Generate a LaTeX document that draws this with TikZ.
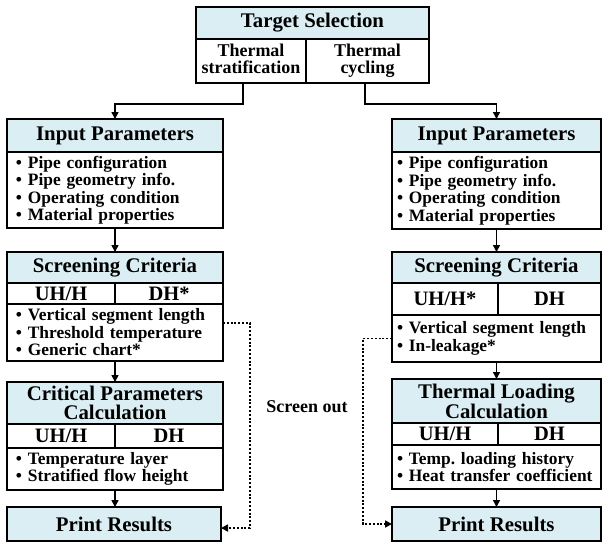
\documentclass[tikz,border=0pt]{standalone}
\usepackage{fontspec}
\setmainfont{Liberation Serif}
\usetikzlibrary{arrows.meta}
\definecolor{hdrblue}{RGB}{218,238,243}
\newcommand\bl[1]{\mbox{\textbullet\ #1}}
\frenchspacing
\begin{document}
\begin{tikzpicture}[x=1pt,y=-1pt,
  cellbase/.style={draw, line width=1.4pt, anchor=north west, inner sep=0pt, outer sep=0pt},
  hdr/.style={cellbase, fill=hdrblue, font=\fontsize{20.8}{19}\selectfont\bfseries, align=center},
  subcell/.style={cellbase, fill=white, font=\fontsize{20.5}{20}\selectfont\bfseries},
  rowcell/.style={cellbase, fill=white, font=\fontsize{18}{17}\selectfont\bfseries, align=center},
  bodyL/.style={cellbase, fill=white, font=\fontsize{17.4}{17.5}\selectfont\bfseries, align=left, inner xsep=9pt, text width=198pt},
  bodyR/.style={cellbase, fill=white, font=\fontsize{17.4}{17.5}\selectfont\bfseries, align=left, inner xsep=5pt, text width=199pt},
  frame/.style={line width=2.6pt},
  conn/.style={line width=1.6pt, -{Triangle[length=7pt,width=7pt]}},
  dots/.style={line width=1.6pt, dash pattern=on 2pt off 1.8pt, -{Triangle[length=7pt,width=7pt]}},
  lbl/.style={font=\fontsize{18}{18}\selectfont\bfseries}
]
\fill[white] (0,0) rectangle (603,542);
\useasboundingbox (0,0) rectangle (603,542);

% Target selection
\node[hdr, minimum width=233pt, minimum height=32pt] (tgt) at (196,7) {Target Selection};
\node[rowcell, minimum width=110pt, minimum height=44pt] (tsL) at (196,39) {Thermal\\stratification\vphantom{g}};
\node[rowcell, minimum width=123pt, minimum height=44pt] (tsR) at (306,39) {Thermal\\cycling};
\draw[frame] (tgt.north west) rectangle (tsR.south east);

% Left column
\node[hdr, minimum width=216pt, minimum height=33pt] (inL) at (7,119) {Input Parameters};
\node[bodyL, minimum width=216pt, minimum height=76pt] (ibL) at (7,152)
  {\bl{Pipe configuration}\\\bl{Pipe geometry info.}\\\bl{Operating condition}\\\bl{Material properties}};
\draw[frame] (inL.north west) rectangle (ibL.south east);

\node[hdr, minimum width=216pt, minimum height=31pt] (scL) at (7,252) {Screening Criteria};
\node[subcell, minimum width=108pt, minimum height=21pt] (scLa) at (7,283) {UH/H};
\node[subcell, minimum width=108pt, minimum height=21pt] (scLb) at (115,283) {DH*};
\node[bodyL, minimum width=216pt, minimum height=57pt] (sbL) at (7,304)
  {\bl{Vertical segment length}\\\bl{Threshold temperature}\\\bl{Generic chart*}};
\draw[frame] (scL.north west) rectangle (sbL.south east);

\node[hdr, minimum width=216pt, minimum height=42pt] (crL) at (7,382) {Critical Parameters\\Calculation};
\node[subcell, minimum width=108pt, minimum height=24pt] (crLa) at (7,424) {UH/H};
\node[subcell, minimum width=108pt, minimum height=24pt] (crLb) at (115,424) {DH};
\node[bodyL, minimum width=216pt, minimum height=42pt] (cbL) at (7,448)
  {\bl{Temperature layer}\\\bl{Stratified flow height}};
\draw[frame] (crL.north west) rectangle (cbL.south east);

\node[hdr, minimum width=214pt, minimum height=34pt] (prL) at (7,507) {Print Results};
\draw[frame] (prL.north west) rectangle (prL.south east);

% Right column
\node[hdr, minimum width=209pt, minimum height=33pt] (inR) at (392,119) {Input Parameters};
\node[bodyR, minimum width=209pt, minimum height=77pt] (ibR) at (392,152)
  {\bl{Pipe configuration}\\\bl{Pipe geometry info.}\\\bl{Operating condition}\\\bl{Material properties}};
\draw[frame] (inR.north west) rectangle (ibR.south east);

\node[hdr, minimum width=209pt, minimum height=31pt] (scR) at (392,252) {Screening Criteria};
\node[subcell, minimum width=106pt, minimum height=32pt] (scRa) at (392,283) {UH/H*};
\node[subcell, minimum width=103pt, minimum height=32pt] (scRb) at (498,283) {DH};
\node[bodyR, minimum width=209pt, minimum height=47pt] (sbR) at (392,315)
  {\bl{Vertical segment length}\\\bl{In-leakage*}};
\draw[frame] (scR.north west) rectangle (sbR.south east);

\node[hdr, minimum width=209pt, minimum height=44pt] (thR) at (392,379) {Thermal Loading\\Calculation};
\node[subcell, minimum width=106pt, minimum height=22pt] (thRa) at (392,423) {UH/H};
\node[subcell, minimum width=103pt, minimum height=22pt] (thRb) at (498,423) {DH};
\node[bodyR, minimum width=209pt, minimum height=44pt] (tbR) at (392,445)
  {\bl{Temp. loading history}\\\bl{Heat transfer coefficient}};
\draw[frame] (thR.north west) rectangle (tbR.south east);

\node[hdr, minimum width=209pt, minimum height=34pt] (prR) at (392,507) {Print Results};
\draw[frame] (prR.north west) rectangle (prR.south east);

% Connectors
\draw[conn] ([xshift=-8pt]tsL.south) -- ++(0,21) -| (inL.north);
\draw[conn] ([xshift=-2.5pt]tsR.south) -- ++(0,21) -| (inR.north);
\draw[conn] (ibL.south) -- (scL.north);
\draw[conn] (sbL.south) -- (crL.north);
\draw[conn] (cbL.south) -- (prL.north -| cbL.south);
\draw[conn] (ibR.south) -- (scR.north);
\draw[conn] (sbR.south) -- (thR.north);
\draw[conn] (tbR.south) -- (prR.north);

\draw[dots] ([yshift=9.5pt]sbL.east) -- ++(27,0) |- ([yshift=-4pt]prL.east);
\draw[dots] (sbR.west) -- ++(-29,0) |- (prR.west);

\node[lbl] (so) at (307,407) {Screen out};
\end{tikzpicture}
\end{document}
